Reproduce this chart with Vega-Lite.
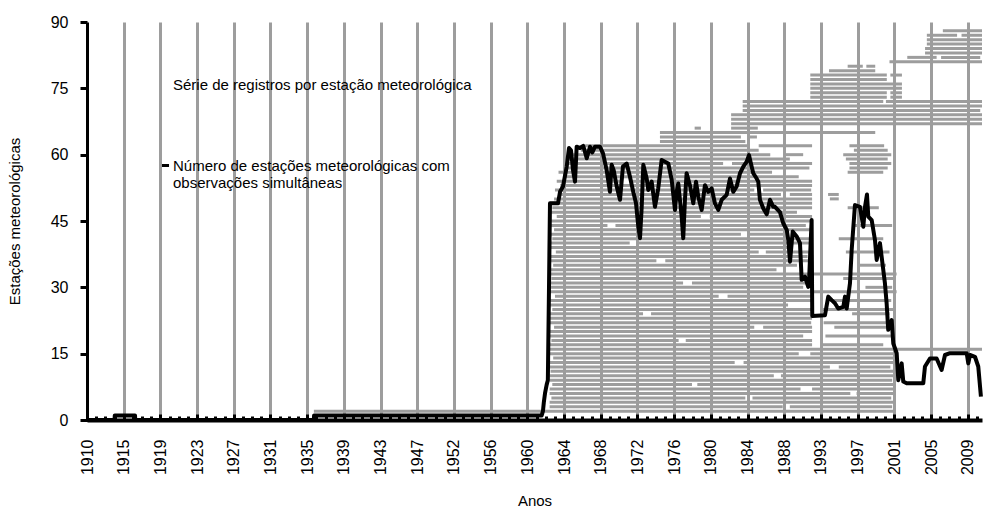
{
  "$schema": "https://vega.github.io/schema/vega-lite/v6.json",
  "width": 895,
  "height": 398,
  "autosize": {"type": "none"},
  "padding": {"left": 87, "top": 22, "right": 1, "bottom": 89},
  "background": "white",
  "config": {"view": {"stroke": null}, "font": "Liberation Sans"},
  "datasets": {
    "estacoes": [
      {"estacao": 1, "inicio": 1913.1, "fim": 1915.4},
      {"estacao": 2, "inicio": 1935.5, "fim": 2000.6},
      {"estacao": 3, "inicio": 1962.0, "fim": 1988.2}, {"estacao": 3, "inicio": 1989.0, "fim": 2000.5},
      {"estacao": 4, "inicio": 1962.0, "fim": 2000.6},
      {"estacao": 5, "inicio": 1962.2, "fim": 1984.0}, {"estacao": 5, "inicio": 1984.8, "fim": 2000.4},
      {"estacao": 6, "inicio": 1962.0, "fim": 1995.8}, {"estacao": 6, "inicio": 1996.5, "fim": 2000.6},
      {"estacao": 7, "inicio": 1962.0, "fim": 1990.2}, {"estacao": 7, "inicio": 1991.5, "fim": 2000.6},
      {"estacao": 8, "inicio": 1962.3, "fim": 1978.0}, {"estacao": 8, "inicio": 1978.6, "fim": 2000.6},
      {"estacao": 9, "inicio": 1962.0, "fim": 2000.5},
      {"estacao": 10, "inicio": 1962.0, "fim": 1987.2}, {"estacao": 10, "inicio": 1988.0, "fim": 2000.6},
      {"estacao": 11, "inicio": 1962.1, "fim": 2000.6},
      {"estacao": 12, "inicio": 1962.0, "fim": 1993.5}, {"estacao": 12, "inicio": 1994.5, "fim": 2000.3},
      {"estacao": 13, "inicio": 1962.0, "fim": 1982.8}, {"estacao": 13, "inicio": 1983.8, "fim": 2000.6},
      {"estacao": 14, "inicio": 1962.4, "fim": 2000.6},
      {"estacao": 15, "inicio": 1962.0, "fim": 1990.0}, {"estacao": 15, "inicio": 1991.3, "fim": 2000.8},
      {"estacao": 16, "inicio": 1962.0, "fim": 2010.6},
      {"estacao": 17, "inicio": 1962.0, "fim": 1991.5}, {"estacao": 17, "inicio": 1992.5, "fim": 1999.5},
      {"estacao": 18, "inicio": 1962.2, "fim": 1976.5}, {"estacao": 18, "inicio": 1977.3, "fim": 1991.5},
      {"estacao": 19, "inicio": 1962.0, "fim": 1990.5}, {"estacao": 19, "inicio": 1993.0, "fim": 2000.4},
      {"estacao": 20, "inicio": 1962.0, "fim": 1991.5},
      {"estacao": 21, "inicio": 1962.5, "fim": 1985.0}, {"estacao": 21, "inicio": 1986.0, "fim": 1991.5}, {"estacao": 21, "inicio": 1994.0, "fim": 2000.5},
      {"estacao": 22, "inicio": 1962.0, "fim": 1991.4}, {"estacao": 22, "inicio": 1992.8, "fim": 2000.6},
      {"estacao": 23, "inicio": 1962.0, "fim": 1991.5},
      {"estacao": 24, "inicio": 1962.0, "fim": 1972.5}, {"estacao": 24, "inicio": 1973.4, "fim": 1991.3}, {"estacao": 24, "inicio": 1996.0, "fim": 2000.2},
      {"estacao": 25, "inicio": 1962.3, "fim": 1991.5}, {"estacao": 25, "inicio": 1992.5, "fim": 2000.6},
      {"estacao": 26, "inicio": 1962.0, "fim": 1988.8},
      {"estacao": 27, "inicio": 1962.0, "fim": 1991.5}, {"estacao": 27, "inicio": 1993.5, "fim": 2000.4},
      {"estacao": 28, "inicio": 1962.6, "fim": 1981.0}, {"estacao": 28, "inicio": 1982.0, "fim": 1991.5},
      {"estacao": 29, "inicio": 1962.0, "fim": 2001.0},
      {"estacao": 30, "inicio": 1962.0, "fim": 1990.5}, {"estacao": 30, "inicio": 1997.5, "fim": 2000.5},
      {"estacao": 31, "inicio": 1962.0, "fim": 1977.0}, {"estacao": 31, "inicio": 1978.0, "fim": 1991.4},
      {"estacao": 32, "inicio": 1962.2, "fim": 1991.5}, {"estacao": 32, "inicio": 1995.0, "fim": 2000.6},
      {"estacao": 33, "inicio": 1962.0, "fim": 2001.0},
      {"estacao": 34, "inicio": 1962.0, "fim": 1987.5},
      {"estacao": 35, "inicio": 1962.4, "fim": 1989.8}, {"estacao": 35, "inicio": 1996.6, "fim": 1999.8},
      {"estacao": 36, "inicio": 1962.0, "fim": 1974.0}, {"estacao": 36, "inicio": 1975.0, "fim": 1991.5},
      {"estacao": 37, "inicio": 1962.0, "fim": 1991.0},
      {"estacao": 38, "inicio": 1962.7, "fim": 1985.5}, {"estacao": 38, "inicio": 1986.3, "fim": 1991.5}, {"estacao": 38, "inicio": 1995.3, "fim": 2000.2},
      {"estacao": 39, "inicio": 1962.0, "fim": 1989.0},
      {"estacao": 40, "inicio": 1962.0, "fim": 1971.0}, {"estacao": 40, "inicio": 1972.0, "fim": 1991.5},
      {"estacao": 41, "inicio": 1962.3, "fim": 1991.5}, {"estacao": 41, "inicio": 1994.5, "fim": 1999.5},
      {"estacao": 42, "inicio": 1962.0, "fim": 1983.5}, {"estacao": 42, "inicio": 1984.5, "fim": 1988.7},
      {"estacao": 43, "inicio": 1962.5, "fim": 1991.5},
      {"estacao": 44, "inicio": 1962.0, "fim": 1968.5}, {"estacao": 44, "inicio": 1969.4, "fim": 1990.8}, {"estacao": 44, "inicio": 1996.0, "fim": 2000.5},
      {"estacao": 45, "inicio": 1962.0, "fim": 1991.5},
      {"estacao": 46, "inicio": 1962.8, "fim": 1979.0}, {"estacao": 46, "inicio": 1980.0, "fim": 1991.5},
      {"estacao": 47, "inicio": 1962.0, "fim": 1989.8},
      {"estacao": 48, "inicio": 1962.3, "fim": 1991.5}, {"estacao": 48, "inicio": 1995.5, "fim": 1999.0},
      {"estacao": 49, "inicio": 1962.0, "fim": 1976.0}, {"estacao": 49, "inicio": 1977.0, "fim": 1991.5},
      {"estacao": 50, "inicio": 1962.5, "fim": 1991.5}, {"estacao": 50, "inicio": 1993.5, "fim": 1994.5},
      {"estacao": 51, "inicio": 1963.0, "fim": 1988.0}, {"estacao": 51, "inicio": 1989.0, "fim": 1991.5}, {"estacao": 51, "inicio": 1993.3, "fim": 1994.5},
      {"estacao": 52, "inicio": 1962.6, "fim": 1985.0}, {"estacao": 52, "inicio": 1986.0, "fim": 1991.4},
      {"estacao": 53, "inicio": 1963.2, "fim": 1991.5},
      {"estacao": 54, "inicio": 1962.8, "fim": 1970.0}, {"estacao": 54, "inicio": 1971.0, "fim": 1991.5},
      {"estacao": 55, "inicio": 1963.5, "fim": 1990.0},
      {"estacao": 56, "inicio": 1963.0, "fim": 1987.0}, {"estacao": 56, "inicio": 1995.5, "fim": 1999.5},
      {"estacao": 57, "inicio": 1963.5, "fim": 1991.2}, {"estacao": 57, "inicio": 1995.7, "fim": 2000.0},
      {"estacao": 58, "inicio": 1964.0, "fim": 1981.5}, {"estacao": 58, "inicio": 1982.5, "fim": 1991.5}, {"estacao": 58, "inicio": 1995.7, "fim": 2000.4},
      {"estacao": 59, "inicio": 1963.8, "fim": 1989.0}, {"estacao": 59, "inicio": 1995.3, "fim": 2000.0},
      {"estacao": 60, "inicio": 1964.5, "fim": 1986.8}, {"estacao": 60, "inicio": 1988.5, "fim": 1990.5}, {"estacao": 60, "inicio": 1995.0, "fim": 2000.4},
      {"estacao": 61, "inicio": 1965.5, "fim": 1985.5}, {"estacao": 61, "inicio": 1996.2, "fim": 2000.0},
      {"estacao": 62, "inicio": 1966.0, "fim": 1984.5}, {"estacao": 62, "inicio": 1985.5, "fim": 1991.5}, {"estacao": 62, "inicio": 1995.7, "fim": 1999.6},
      {"estacao": 63, "inicio": 1974.4, "fim": 1984.0},
      {"estacao": 64, "inicio": 1974.4, "fim": 1983.5}, {"estacao": 64, "inicio": 1984.3, "fim": 1985.3},
      {"estacao": 65, "inicio": 1974.4, "fim": 1998.6},
      {"estacao": 66, "inicio": 1978.3, "fim": 1979.0}, {"estacao": 66, "inicio": 1982.4, "fim": 1985.4},
      {"estacao": 67, "inicio": 1982.4, "fim": 2010.6},
      {"estacao": 68, "inicio": 1982.4, "fim": 2010.6},
      {"estacao": 69, "inicio": 1982.4, "fim": 2010.6},
      {"estacao": 70, "inicio": 1983.7, "fim": 2010.4},
      {"estacao": 71, "inicio": 1983.7, "fim": 2010.6},
      {"estacao": 72, "inicio": 1983.7, "fim": 1999.5}, {"estacao": 72, "inicio": 1999.8, "fim": 2010.6},
      {"estacao": 73, "inicio": 1991.3, "fim": 1999.9}, {"estacao": 73, "inicio": 2000.3, "fim": 2001.6},
      {"estacao": 74, "inicio": 1991.3, "fim": 1999.9}, {"estacao": 74, "inicio": 2000.3, "fim": 2001.6},
      {"estacao": 75, "inicio": 1991.3, "fim": 2001.6},
      {"estacao": 76, "inicio": 1991.3, "fim": 2001.6},
      {"estacao": 77, "inicio": 1991.3, "fim": 1999.9},
      {"estacao": 78, "inicio": 1991.3, "fim": 1999.9}, {"estacao": 78, "inicio": 2000.3, "fim": 2001.6},
      {"estacao": 79, "inicio": 1993.4, "fim": 1998.6},
      {"estacao": 80, "inicio": 1995.5, "fim": 1997.2}, {"estacao": 80, "inicio": 1997.6, "fim": 1998.6},
      {"estacao": 81, "inicio": 2000.2, "fim": 2010.6},
      {"estacao": 82, "inicio": 2002.2, "fim": 2005.5}, {"estacao": 82, "inicio": 2006.0, "fim": 2010.4},
      {"estacao": 83, "inicio": 2004.2, "fim": 2010.6},
      {"estacao": 84, "inicio": 2004.2, "fim": 2010.6},
      {"estacao": 85, "inicio": 2004.4, "fim": 2010.6},
      {"estacao": 86, "inicio": 2004.4, "fim": 2010.6},
      {"estacao": 87, "inicio": 2004.4, "fim": 2007.8}, {"estacao": 87, "inicio": 2008.3, "fim": 2010.6},
      {"estacao": 88, "inicio": 2006.2, "fim": 2010.6}
    ],
    "contagem": [
      {"ano": 1910.0, "n": 0}, {"ano": 1913.1, "n": 0}, {"ano": 1913.12, "n": 1}, {"ano": 1915.4, "n": 1},
      {"ano": 1915.42, "n": 0}, {"ano": 1935.5, "n": 0}, {"ano": 1935.52, "n": 1}, {"ano": 1961.1, "n": 1},
      {"ano": 1961.25, "n": 2}, {"ano": 1961.35, "n": 4}, {"ano": 1961.48, "n": 6}, {"ano": 1961.67, "n": 8},
      {"ano": 1961.8, "n": 9}, {"ano": 1961.93, "n": 30}, {"ano": 1962.04, "n": 49}, {"ano": 1962.94, "n": 49},
      {"ano": 1963.17, "n": 51.6}, {"ano": 1963.5, "n": 52.8}, {"ano": 1963.92, "n": 57.3}, {"ano": 1964.18, "n": 61.5},
      {"ano": 1964.4, "n": 61}, {"ano": 1964.63, "n": 56.5}, {"ano": 1964.85, "n": 53.9}, {"ano": 1965.04, "n": 61.8},
      {"ano": 1965.41, "n": 61.5}, {"ano": 1965.78, "n": 62}, {"ano": 1966.17, "n": 59.2}, {"ano": 1966.54, "n": 61.8},
      {"ano": 1966.8, "n": 60.5}, {"ano": 1967.1, "n": 61.8}, {"ano": 1967.66, "n": 61.8}, {"ano": 1968.0, "n": 60.3},
      {"ano": 1968.41, "n": 56.5}, {"ano": 1968.78, "n": 51.6}, {"ano": 1968.97, "n": 57.7}, {"ano": 1969.2, "n": 56.5},
      {"ano": 1969.54, "n": 52.8}, {"ano": 1969.91, "n": 49.8}, {"ano": 1970.24, "n": 57.3}, {"ano": 1970.66, "n": 58},
      {"ano": 1971.03, "n": 55}, {"ano": 1971.4, "n": 51.6}, {"ano": 1971.71, "n": 49}, {"ano": 1971.97, "n": 43.7},
      {"ano": 1972.16, "n": 41.1}, {"ano": 1972.35, "n": 48.2}, {"ano": 1972.53, "n": 57.7}, {"ano": 1972.91, "n": 54.6},
      {"ano": 1973.09, "n": 52}, {"ano": 1973.47, "n": 53.9}, {"ano": 1973.84, "n": 48.2}, {"ano": 1974.21, "n": 52.4},
      {"ano": 1974.59, "n": 58.8}, {"ano": 1974.96, "n": 58.4}, {"ano": 1975.34, "n": 58}, {"ano": 1975.72, "n": 54.3},
      {"ano": 1976.09, "n": 47.5}, {"ano": 1976.28, "n": 51.6}, {"ano": 1976.46, "n": 53.5}, {"ano": 1976.84, "n": 46},
      {"ano": 1977.02, "n": 41.1}, {"ano": 1977.21, "n": 49.8}, {"ano": 1977.4, "n": 55.8}, {"ano": 1977.77, "n": 53.1},
      {"ano": 1978.15, "n": 49}, {"ano": 1978.45, "n": 53.9}, {"ano": 1978.71, "n": 50.5}, {"ano": 1979.09, "n": 47.5},
      {"ano": 1979.46, "n": 53.1}, {"ano": 1979.83, "n": 51.6}, {"ano": 1980.21, "n": 52.4}, {"ano": 1980.58, "n": 49},
      {"ano": 1980.96, "n": 47.5}, {"ano": 1981.34, "n": 49.8}, {"ano": 1981.9, "n": 50.9}, {"ano": 1982.27, "n": 54.6},
      {"ano": 1982.64, "n": 51.6}, {"ano": 1983.02, "n": 52.8}, {"ano": 1983.4, "n": 55.8}, {"ano": 1983.77, "n": 57.3},
      {"ano": 1984.15, "n": 58.4}, {"ano": 1984.41, "n": 59.9}, {"ano": 1984.71, "n": 57.3}, {"ano": 1984.89, "n": 55.8},
      {"ano": 1985.27, "n": 54.6}, {"ano": 1985.45, "n": 53.9}, {"ano": 1985.64, "n": 49.8}, {"ano": 1986.01, "n": 47.9},
      {"ano": 1986.4, "n": 46.5}, {"ano": 1986.77, "n": 49.8}, {"ano": 1987.14, "n": 48.2}, {"ano": 1987.33, "n": 48.2},
      {"ano": 1987.89, "n": 47}, {"ano": 1988.26, "n": 44.5}, {"ano": 1988.65, "n": 43}, {"ano": 1988.83, "n": 40.7},
      {"ano": 1989.02, "n": 35.8}, {"ano": 1989.32, "n": 42.6}, {"ano": 1989.77, "n": 41.5}, {"ano": 1990.14, "n": 40},
      {"ano": 1990.33, "n": 31.7}, {"ano": 1990.7, "n": 32.4}, {"ano": 1991.07, "n": 30.1}, {"ano": 1991.18, "n": 32.4},
      {"ano": 1991.45, "n": 45.2}, {"ano": 1991.52, "n": 23.5}, {"ano": 1992.95, "n": 23.7}, {"ano": 1993.32, "n": 27.9},
      {"ano": 1993.7, "n": 27.1}, {"ano": 1994.07, "n": 26.4}, {"ano": 1994.44, "n": 25.2}, {"ano": 1995.01, "n": 25.6},
      {"ano": 1995.2, "n": 27.9}, {"ano": 1995.39, "n": 25.2}, {"ano": 1995.76, "n": 30.9}, {"ano": 1995.95, "n": 38.4},
      {"ano": 1996.32, "n": 48.6}, {"ano": 1996.88, "n": 48.2}, {"ano": 1997.26, "n": 43.7}, {"ano": 1997.45, "n": 48.2},
      {"ano": 1997.67, "n": 51}, {"ano": 1997.82, "n": 46}, {"ano": 1998.2, "n": 45.2}, {"ano": 1998.57, "n": 40.7},
      {"ano": 1998.76, "n": 36.2}, {"ano": 1999.13, "n": 40}, {"ano": 1999.32, "n": 36.9}, {"ano": 1999.69, "n": 30.9},
      {"ano": 1999.88, "n": 26.4}, {"ano": 2000.06, "n": 20.4}, {"ano": 2000.45, "n": 22.6}, {"ano": 2000.63, "n": 17.3},
      {"ano": 2001.01, "n": 15.1}, {"ano": 2001.19, "n": 9}, {"ano": 2001.57, "n": 12.8}, {"ano": 2001.75, "n": 8.7},
      {"ano": 2002.13, "n": 8.3}, {"ano": 2004.0, "n": 8.3}, {"ano": 2004.19, "n": 12.1}, {"ano": 2004.75, "n": 13.9},
      {"ano": 2005.5, "n": 13.9}, {"ano": 2006.06, "n": 11.3}, {"ano": 2006.44, "n": 14.7}, {"ano": 2007.0, "n": 15.1},
      {"ano": 2008.88, "n": 15.1}, {"ano": 2009.06, "n": 12.8}, {"ano": 2009.25, "n": 14.7}, {"ano": 2009.81, "n": 14.3},
      {"ano": 2010.18, "n": 12.1}, {"ano": 2010.48, "n": 5.3}
    ]
  },
  "layer": [
    {
      "data": {"name": "estacoes"},
      "mark": {"type": "rule", "strokeWidth": 3},
      "encoding": {
        "x": {
          "field": "inicio", "type": "quantitative",
          "scale": {"domain": [1910, 2010.6], "nice": false, "zero": false},
          "axis": {
            "title": "Anos", "titleFontSize": 15, "titleFontWeight": "normal", "titleColor": "#000", "titlePadding": 19,
            "tickCount": 1000,
            "values": [1910, 1911.03125, 1912.0625, 1913.09375, 1914.125, 1915.15625, 1916.1875, 1917.21875, 1918.25, 1919.28125, 1920.3125, 1921.34375, 1922.375, 1923.40625, 1924.4375, 1925.46875, 1926.5, 1927.53125, 1928.5625, 1929.59375, 1930.625, 1931.65625, 1932.6875, 1933.71875, 1934.75, 1935.78125, 1936.8125, 1937.84375, 1938.875, 1939.90625, 1940.9375, 1941.96875, 1943.0, 1944.03125, 1945.0625, 1946.09375, 1947.125, 1948.15625, 1949.1875, 1950.21875, 1951.25, 1952.28125, 1953.3125, 1954.34375, 1955.375, 1956.40625, 1957.4375, 1958.46875, 1959.5, 1960.53125, 1961.5625, 1962.59375, 1963.625, 1964.65625, 1965.6875, 1966.71875, 1967.75, 1968.78125, 1969.8125, 1970.84375, 1971.875, 1972.90625, 1973.9375, 1974.96875, 1976.0, 1977.03125, 1978.0625, 1979.09375, 1980.125, 1981.15625, 1982.1875, 1983.21875, 1984.25, 1985.28125, 1986.3125, 1987.34375, 1988.375, 1989.40625, 1990.4375, 1991.46875, 1992.5, 1993.53125, 1994.5625, 1995.59375, 1996.625, 1997.65625, 1998.6875, 1999.71875, 2000.75, 2001.78125, 2002.8125, 2003.84375, 2004.875, 2005.90625, 2006.9375, 2007.96875, 2009.0, 2010.03125],
            "labelExpr": "round((datum.value - 1910) / 1.03125) % 4 == 0 ? ['1910','1915','1919','1923','1927','1931','1935','1939','1943','1947','1952','1956','1960','1964','1968','1972','1976','1980','1984','1988','1993','1997','2001','2005','2009'][round((datum.value - 1910) / 4.125)] : ''",
            "labelAngle": 270, "labelAlign": "right", "labelBaseline": "middle",
            "labelFontSize": 16, "labelColor": "#000", "labelPadding": 25,
            "labelOverlap": false, "labelFlush": false, "labelBound": false,
            "grid": true, "gridColor": "#9d9d9d", "gridWidth": 3,
            "gridOpacity": {"condition": {"test": "round((datum.value - 1910) / 1.03125) % 4 == 0 && datum.value > 1911", "value": 1}, "value": 0},
            "domainColor": "#000", "domainWidth": 4,
            "tickColor": "#000", "tickWidth": 3,
            "tickSize": {"condition": {"test": "round((datum.value - 1910) / 1.03125) % 4 == 0", "value": -6}, "value": -4}
          }
        },
        "x2": {"field": "fim"},
        "y": {
          "field": "estacao", "type": "quantitative",
          "scale": {"domain": [0, 90], "nice": false},
          "axis": {
            "title": "Estações meteorológicas", "titleFontSize": 15, "titleFontWeight": "normal", "titleColor": "#000", "titlePadding": 28,
            "values": [0, 15, 30, 45, 60, 75, 90], "grid": false,
            "domainColor": "#000", "domainWidth": 3,
            "tickColor": "#000", "tickWidth": 3, "tickSize": 7,
            "labelFontSize": 16, "labelColor": "#000", "labelPadding": 12
          }
        },
        "color": {
          "datum": "Série de registros por estação meteorológica",
          "scale": {
            "domain": ["Série de registros por estação meteorológica", "Número de estações meteorológicas com observações simultâneas"],
            "range": ["#9d9d9d", "#000000"]
          },
          "legend": {
            "title": null, "orient": "none", "legendX": 71, "legendY": 55,
            "symbolType": "stroke", "symbolStrokeWidth": 3, "symbolSize": 50,
            "labelFontSize": 15, "labelColor": "#000", "labelLimit": 500, "labelOffset": 0,
            "rowPadding": 65,
            "labelExpr": "datum.label == 'Número de estações meteorológicas com observações simultâneas' ? ['Número de estações meteorológicas com', 'observações simultâneas'] : datum.label",
            "encode": {"symbols": {"update": {"opacity": {"signal": "datum.value == 'Série de registros por estação meteorológica' ? 0 : 1"}}}}
          }
        }
      }
    },
    {
      "data": {"name": "contagem"},
      "mark": {"type": "line", "strokeWidth": 4, "strokeJoin": "round"},
      "encoding": {
        "x": {"field": "ano", "type": "quantitative"},
        "y": {"field": "n", "type": "quantitative"},
        "color": {"datum": "Número de estações meteorológicas com observações simultâneas"}
      }
    }
  ]
}
